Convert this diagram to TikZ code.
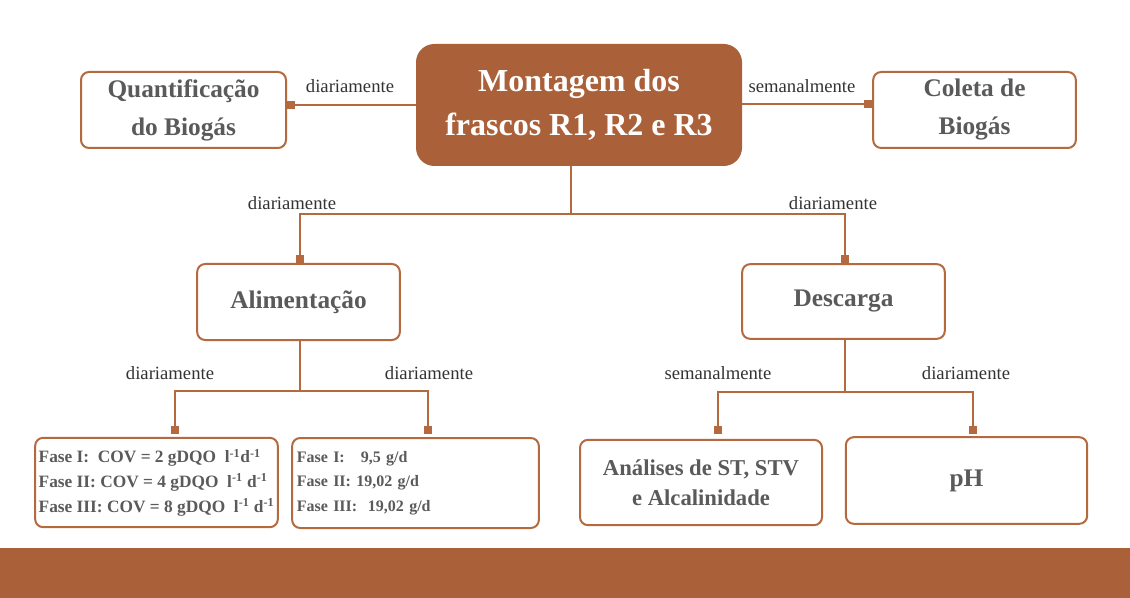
\documentclass[tikz,border=0pt]{standalone}
\usepackage{fontspec}
\setmainfont{Liberation Serif}
\usetikzlibrary{calc,arrows.meta}
\definecolor{barro}{HTML}{AA6139}
\definecolor{linha}{HTML}{B4693F}
\definecolor{texto}{HTML}{5A5A5A}
\tikzset{
  caixa/.style={draw=linha, line width=1.5pt, rounded corners=6pt, fill=white,
    text=texto, font=\bfseries\fontsize{19}{28.5}\selectfont, align=center, inner sep=0pt},
  fase/.style={caixa, font=\bfseries\fontsize{13}{18.5}\selectfont, align=left},
  liga/.style={draw=linha, line width=1.5pt, -{Square[length=6pt,width=6pt]}},
  rotulo/.style={text=black!80, font=\fontsize{14}{16}\selectfont, inner sep=0pt}
}
\begin{document}
\begin{tikzpicture}[x=0.75pt, y=-0.75pt]
		\useasboundingbox (0,0) rectangle (1130,598);
		
		%%%%% caixas %%%%%
		\node[caixa, fill=barro, draw=barro, text=white, rounded corners=13pt,
		      minimum width=243pt, minimum height=90pt,
		      font=\bfseries\fontsize{24}{33}\selectfont] (montagem) at (579,105) {Montagem dos\\frascos R1, R2 e R3};
		
		\node[caixa, minimum width=153.75pt, minimum height=57pt] (quant) at (183.5,110) {Quantificação\\do Biogás};
		\node[caixa, minimum width=152pt, minimum height=57pt] (coleta) at (974.5,110) {Coleta de\\Biogás};
		
		\node[caixa, minimum width=152pt, minimum height=57pt] (alim) at (298.5,302) {Alimentação};
		\node[caixa, minimum width=152pt, minimum height=56pt] (desc) at (843.5,301.5) {Descarga};
		
		\node[fase, minimum width=182pt, minimum height=67pt] (cov) at (156.5,482.5)
		  {Fase I:\ \ COV = 2 gDQO\ \ l\textsuperscript{-1}d\textsuperscript{-1}\\
		   Fase II: COV = 4 gDQO\ \ l\textsuperscript{-1} d\textsuperscript{-1}\\
		   Fase III: COV = 8 gDQO\ \ l\textsuperscript{-1} d\textsuperscript{-1}};
		\node[fase, minimum width=185pt, minimum height=67.5pt, text width=178pt,
		      font=\bfseries\fontsize{12}{18.5}\selectfont] (carga) at (415.5,483)
		  {Fase I:\ \ \ 9,5 g/d\\
		   Fase II: 19,02 g/d\\
		   Fase III:\ \ 19,02 g/d};
		
		\node[caixa, minimum width=181.5pt, minimum height=64pt, font=\bfseries\fontsize{17}{22.5}\selectfont] (anal) at (701,482.5) {Análises de ST, STV\\e Alcalinidade};
		\node[caixa, minimum width=181pt, minimum height=65pt] (ph) at (966.5,480.5) {pH};
		
		%%%%% ligacoes %%%%%
		\draw[liga] (montagem.west |- 0,105) -- (quant.east |- 0,105);
		\draw[liga] (montagem.east |- 0,104) -- (coleta.west |- 0,104);
		
		\draw[draw=linha, line width=1.5pt] ([xshift=-6pt]montagem.south) -- ++(0,48) coordinate (barra);
		\draw[liga] (barra) -| ([xshift=1.1pt]alim.north);
		\draw[liga] (barra) -| ([xshift=1.1pt]desc.north);
		
		\draw[draw=linha, line width=1.5pt] ([xshift=1.1pt]alim.south) -- ++(0,50) coordinate (barraA);
		\draw[liga] (barraA) -| ([shift={(13.9pt,2pt)}]cov.north);
		\draw[liga] (barraA) -| ([shift={(9.4pt,2pt)}]carga.north);
		
		\draw[draw=linha, line width=1.5pt] ([xshift=1.1pt]desc.south) -- ++(0,52) coordinate (barraD);
		\draw[liga] (barraD) -| ([shift={(12.75pt,4pt)}]anal.north);
		\draw[liga] (barraD) -| ([shift={(4.9pt,2pt)}]ph.north);
		
		%%%%% rotulos %%%%%
		\node[rotulo] (r1) at (350,86) {diariamente};
		\node[rotulo] (r2) at (802,86) {semanalmente};
		\node[rotulo] (r3) at (292,203) {diariamente};
		\node[rotulo] (r4) at (833,203) {diariamente};
		\node[rotulo] (r5) at (170,373) {diariamente};
		\node[rotulo] (r6) at (429,373) {diariamente};
		\node[rotulo] (r7) at (718,373) {semanalmente};
		\node[rotulo] (r8) at (966,373) {diariamente};
		
		\fill[barro] (0,548) rectangle (1130,598);
	\end{tikzpicture}
\end{document}
